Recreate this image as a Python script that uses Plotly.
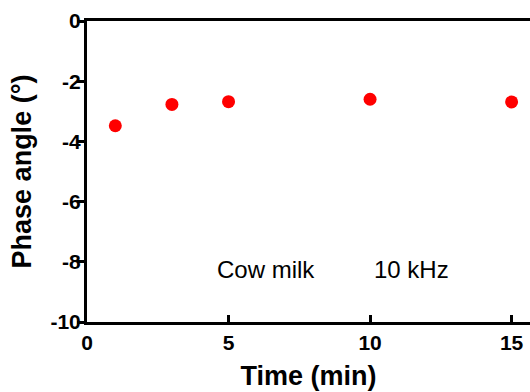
import plotly.graph_objects as go

time_min = [1, 3, 5, 10, 15]
phase_angle = [-3.48, -2.77, -2.68, -2.60, -2.69]
x_ticks = [0, 5, 10, 15]
y_ticks = [0, -2, -4, -6, -8, -10]

FONT = "Liberation Sans"

fig = go.Figure()
fig.add_trace(go.Scatter(
    x=time_min, y=phase_angle, mode="markers",
    marker=dict(color="#ff0000", size=13, line=dict(width=0)),
    cliponaxis=False, showlegend=False,
))

fig.update_layout(
    width=530, height=392,
    margin=dict(l=87, r=0, t=21, b=70),
    paper_bgcolor="white", plot_bgcolor="white",
    font=dict(family=FONT, color="black"),
    xaxis=dict(
        range=[0, 15.65], tickvals=x_ticks, ticktext=[f"<b>{v}</b>" for v in x_ticks],
        showgrid=False, zeroline=False, automargin=False,
        showline=True, linecolor="black", linewidth=3, mirror=True,
        ticks="inside", ticklen=7, tickwidth=2.5, tickcolor="black",
        tickfont=dict(family=FONT, size=21, color="black"),
        title=dict(text="<b>Time (min)</b>", font=dict(family=FONT, size=27, color="black"), standoff=13),
    ),
    yaxis=dict(
        range=[-10, 0], tickvals=y_ticks, ticktext=[f"<b>{v}</b>" for v in y_ticks],
        showgrid=False, zeroline=False, automargin=False,
        showline=True, linecolor="black", linewidth=3,
        ticks="outside", ticklen=7, tickwidth=2.5, tickcolor="black",
        ticklabelstandoff=-8,
        tickfont=dict(family=FONT, size=21, color="black"),
        title=dict(text="<b>Phase angle (°)</b>", font=dict(family=FONT, size=27, color="black"), standoff=11),
    ),
    annotations=[
        dict(x=6.31, y=-8.24, xref="x", yref="y", text="Cow milk", showarrow=False,
             xanchor="center", yanchor="middle", font=dict(family=FONT, size=24, color="black")),
        dict(x=11.47, y=-8.24, xref="x", yref="y", text="10 kHz", showarrow=False,
             xanchor="center", yanchor="middle", font=dict(family=FONT, size=24, color="black")),
    ],
)

fig.write_html(
    "out.html",
    config={"displayModeBar": False},
    post_script="document.body.style.margin='0';document.body.style.overflow='hidden';",
)
